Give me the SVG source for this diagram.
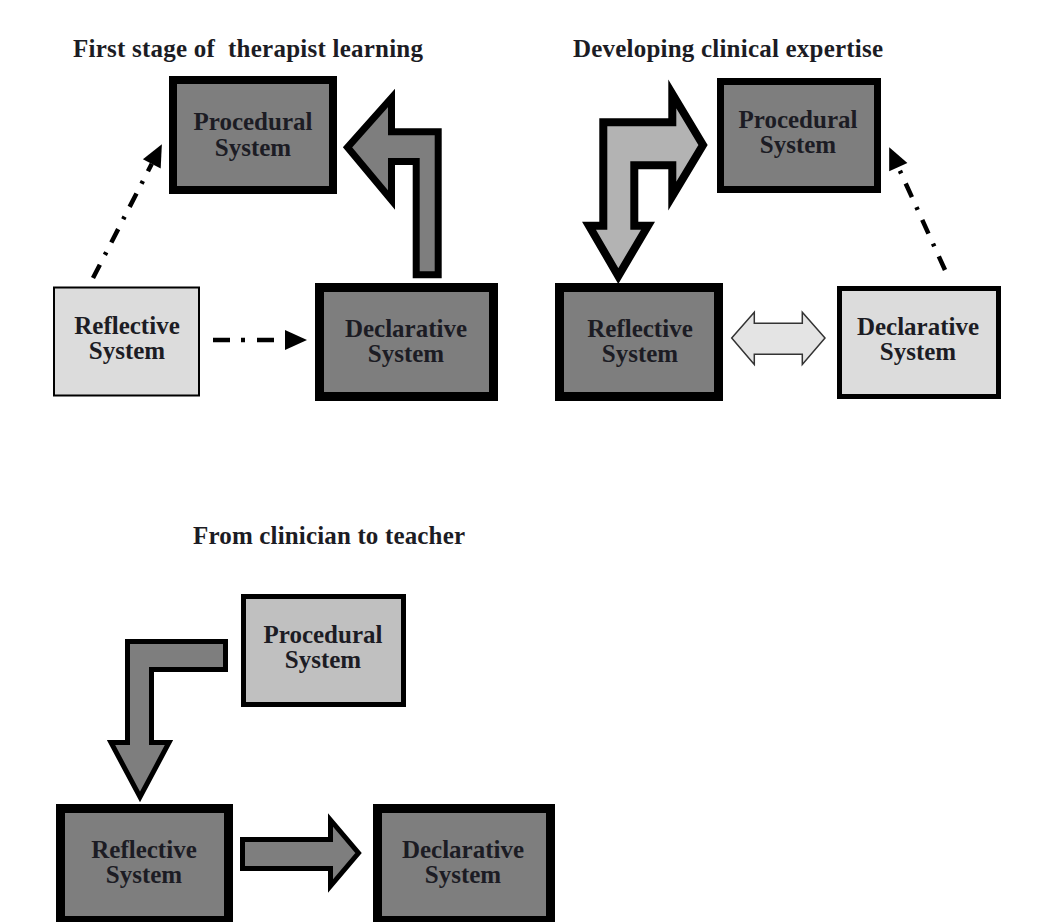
<svg xmlns="http://www.w3.org/2000/svg" width="1050" height="922" viewBox="0 0 1050 922">
  <style>
    text { font-family: "Liberation Serif", "Times New Roman", serif; font-weight: bold; font-size: 25px; fill: #1c1c24; }
    .lbl { text-anchor: middle; }
    .dark { fill: #7e7e7e; stroke: #000; }
    .light { fill: #dcdcdc; stroke: #000; }
    .mid { fill: #c0c0c0; stroke: #000; }
    .block { stroke: #000; stroke-linejoin: miter; stroke-miterlimit: 10; }
    .dd { fill: none; stroke: #000; stroke-width: 4.5; }
  </style>
  <defs>
    <marker id="ah" markerUnits="userSpaceOnUse" markerWidth="22" markerHeight="20" refX="0" refY="10" orient="auto" overflow="visible">
      <path d="M0,0 L22,10 L0,20 z" fill="#000"/>
    </marker>
  </defs>
  <rect width="1050" height="922" fill="#ffffff"/>

  <!-- titles -->
  <text x="73" y="57" xml:space="preserve" textLength="350" lengthAdjust="spacing">First stage of  therapist learning</text>
  <text x="573" y="57" textLength="310" lengthAdjust="spacing">Developing clinical expertise</text>
  <text x="193" y="544" textLength="272" lengthAdjust="spacing">From clinician to teacher</text>

  <!-- Panel 1 -->
  <g id="p1-procedural">
    <rect class="dark" x="173" y="80" width="160" height="110" stroke-width="8"/>
    <text class="lbl" x="253" y="130">Procedural</text>
    <text class="lbl" x="253" y="156">System</text>
  </g>
  <g id="p1-reflective">
    <rect class="light" x="54" y="287.5" width="145" height="108" stroke-width="2"/>
    <text class="lbl" x="127" y="334">Reflective</text>
    <text class="lbl" x="127" y="359">System</text>
  </g>
  <g id="p1-declarative">
    <rect class="dark" x="319.5" y="287.5" width="174" height="109" stroke-width="9"/>
    <text class="lbl" x="406" y="337">Declarative</text>
    <text class="lbl" x="406" y="362">System</text>
  </g>

  <!-- Panel 2 -->
  <g id="p2-procedural">
    <rect class="dark" x="720.5" y="81.5" width="157" height="108" stroke-width="7"/>
    <text class="lbl" x="798" y="128">Procedural</text>
    <text class="lbl" x="798" y="153">System</text>
  </g>
  <g id="p2-reflective">
    <rect class="dark" x="559.5" y="287.5" width="159" height="109" stroke-width="9"/>
    <text class="lbl" x="640" y="337">Reflective</text>
    <text class="lbl" x="640" y="362">System</text>
  </g>
  <g id="p2-declarative">
    <rect class="light" x="839.5" y="288.5" width="159" height="108" stroke-width="5"/>
    <text class="lbl" x="918" y="335">Declarative</text>
    <text class="lbl" x="918" y="360">System</text>
  </g>

  <!-- Panel 3 -->
  <g id="p3-procedural">
    <rect class="mid" x="243.5" y="596.5" width="160" height="108" stroke-width="5"/>
    <text class="lbl" x="323" y="643">Procedural</text>
    <text class="lbl" x="323" y="668">System</text>
  </g>
  <g id="p3-reflective">
    <rect class="dark" x="60.5" y="808.5" width="168" height="112" stroke-width="9"/>
    <text class="lbl" x="144" y="858">Reflective</text>
    <text class="lbl" x="144" y="883">System</text>
  </g>
  <g id="p3-declarative">
    <rect class="dark" x="377.5" y="808.5" width="173" height="112" stroke-width="9"/>
    <text class="lbl" x="463" y="858">Declarative</text>
    <text class="lbl" x="463" y="883">System</text>
  </g>

  <!-- connectors -->
  <g id="connectors">
    <!-- panel 1 -->
    <line class="dd" x1="213" y1="340" x2="285" y2="340" stroke-width="5" stroke-dasharray="17 11 4 12" marker-end="url(#ah)"/>
    <line class="dd" x1="93" y1="278" x2="151.8" y2="163.8" stroke-dasharray="15 11 3 11" marker-end="url(#ah)"/>
    <polygon class="block" fill="#7e7e7e" stroke-width="7" points="347.5,147.3 391.5,98 391.5,131.8 438.2,131.8 438.2,274.8 416.2,274.8 416.2,161.5 391.5,161.5 391.5,200"/>
    <!-- panel 2 -->
    <polygon class="block" fill="#b3b3b3" stroke-width="8" points="703,145 672.3,94 672.3,122.3 603.3,122.3 603.3,225.7 589,225.7 618.3,276 648,225.7 634.3,225.7 634.3,165.3 672.3,165.3 672.3,196"/>
    <polygon fill="#e4e4e4" stroke="#333" stroke-width="1.5" points="731.7,338 754.3,312.3 754.3,323.3 802.3,323.3 802.3,312.3 825,338 802.3,364.5 802.3,354.3 754.3,354.3 754.3,364.5"/>
    <line class="dd" x1="945" y1="270" x2="898.3" y2="167.2" stroke-dasharray="15 11 3 11" marker-end="url(#ah)"/>
    <!-- panel 3 -->
    <polygon class="block" fill="#7e7e7e" stroke-width="5" points="225.5,641.5 127.5,641.5 127.5,742.5 111,742.5 140,797 169,742.5 151.5,742.5 151.5,669.5 225.5,669.5"/>
    <polygon class="block" fill="#7e7e7e" stroke-width="5" points="242.5,839.5 330.5,839.5 330.5,820 358.5,853 330.5,886 330.5,868.5 242.5,868.5"/>
  </g>
</svg>
